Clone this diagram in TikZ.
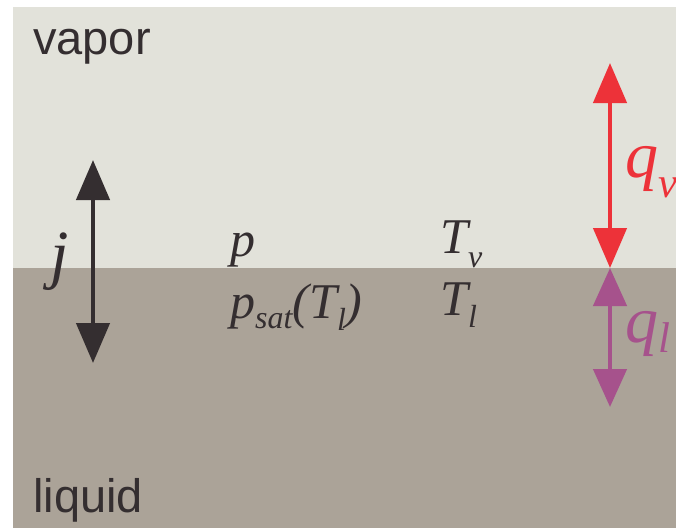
\documentclass[tikz,border=0pt]{standalone}
\usepackage{fontspec}
\setmainfont{Liberation Sans}
\newfontfamily\tms{Liberation Serif}
\usetikzlibrary{arrows.meta}
\definecolor{vaporbg}{RGB}{226,226,218}
\definecolor{liquidbg}{RGB}{171,163,152}
\definecolor{inkdark}{RGB}{52,46,48}
\definecolor{heatred}{RGB}{237,50,57}
\definecolor{heatpurple}{RGB}{166,82,140}
% lowered subscript: drop (pt), size (pt), text
\newcommand{\sbs}[3]{\raisebox{-#1pt}{\fontsize{#2}{#2}\selectfont #3}}

\begin{document}
\begin{tikzpicture}[x=1pt,y=-1pt,
    phase/.style={font=\fontsize{47}{47}\selectfont,text=inkdark,inner sep=0pt,anchor=base west},
    sym/.style={font=\fontsize{50}{50}\selectfont\tms\itshape,text=inkdark,inner sep=0pt,anchor=base west},
    bigsym/.style={sym,font=\fontsize{66}{66}\selectfont\tms\itshape},
    flux/.style={line width=4.5pt,{Triangle[width=33pt,length=40pt]}-{Triangle[width=33pt,length=40pt]}}]
    \useasboundingbox (0,0) rectangle (676,528);
    % the two phases
    \fill[vaporbg] (13,7) rectangle (676,268);
    \fill[liquidbg] (13,268) rectangle (676,528);
    \node[phase] (vap) at (33,54) {vapor};
    \node[phase] (liq) at (33,512) {liquid};

    % mass flux
    \coordinate (jtop) at (93,160);
    \coordinate (jbot) at (93,363);
    \draw[flux,inkdark] (jtop) -- (jbot);
    \node[bigsym] (j) at (50,276) {j};

    % interface quantities
    \node[sym] (pv) at (230,256) {p};
    \node[sym] (psat) at (230,318) {p\sbs{10}{32}{sat}(T\sbs{12}{32}{l})};
    \node[sym] (tv) at (440,253) {T\sbs{14}{32}{v}};
    \node[sym] (tl) at (440,315) {T\sbs{12}{32}{l}};

    % heat fluxes
    \coordinate (qvtop) at (610,63);
    \coordinate (iface) at (610,268);
    \coordinate (qlbot) at (610,407);
    \draw[flux,heatred] (qvtop) -- (iface);
    \draw[flux,heatpurple,{Triangle[width=33pt,length=38pt]}-{Triangle[width=33pt,length=38pt]}] (iface) -- (qlbot);
    \node[bigsym,text=heatred] (qv) at (625,177) {q\sbs{20}{43}{v}};
    \node[bigsym,text=heatpurple] (ql) at (625,342) {q\sbs{10}{43}{l}};
\end{tikzpicture}
\end{document}
